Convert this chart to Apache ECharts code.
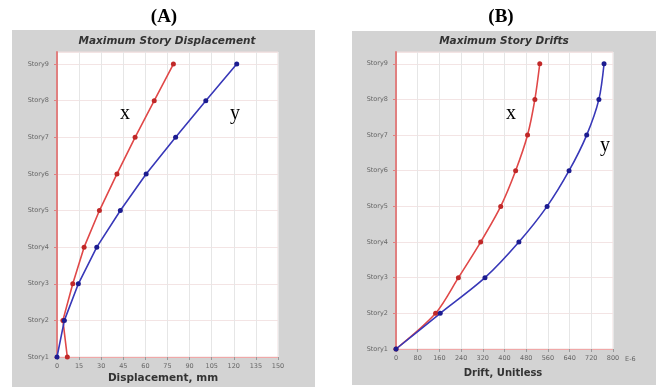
<!DOCTYPE html>
<html><head><meta charset="utf-8">
<script src="https://cdn.jsdelivr.net/npm/echarts@6/dist/echarts.min.js"></script>
<style>html,body{margin:0;padding:0;background:#fff}#c{width:656px;height:387px}</style>
</head><body><div id="c"></div>
<script>
const stories = ['Story1','Story2','Story3','Story4','Story5','Story6','Story7','Story8','Story9'];
const dispX = [7, 4, 10.7, 18.4, 28.8, 40.7, 53, 66, 79];
const dispY = [0, 5, 14.5, 27, 43, 60.5, 80.5, 101, 122];
const driftX = [0, 146, 230, 312, 386, 441, 485, 512, 530];
const driftY = [0, 163, 328, 453, 557, 638, 703, 748, 767];
const dispTicks = {min: 0, max: 150, step: 15};
const driftTicks = {min: 0, max: 800, step: 80};

const chart = echarts.init(document.getElementById('c'), null, {renderer: 'canvas'});
const toPts = arr => arr.map((v, i) => [v, i + 1]);
const RED = '#e04848', BLUE = '#3838b8';
const axisLbl = {fontSize: 6.5, color: '#666', fontFamily: 'DejaVu Sans'};
function yAxis(gi) {
  return {type: 'value', gridIndex: gi, min: 1, max: 9.33, interval: 1,
    axisLabel: Object.assign({}, axisLbl, {showMaxLabel: false, margin: 8,
      formatter: v => (Number.isInteger(v) && stories[v - 1]) ? stories[v - 1] : ''}),
    axisLine: {show: true, lineStyle: {color: '#e08080', width: 2}},
    axisTick: {show: true, length: 3, lineStyle: {color: '#e08080'}},
    splitLine: {show: true, lineStyle: {color: '#f3e4e4', width: 1}}};
}
function xAxis(gi, t) {
  return {type: 'value', gridIndex: gi, min: t.min, max: t.max, interval: t.step,
    axisLabel: Object.assign({}, axisLbl, {margin: 6}),
    axisLine: {show: true, lineStyle: {color: '#f0a8a8', width: 1}},
    axisTick: {show: true, length: 3, lineStyle: {color: '#999'}},
    splitLine: {show: true, lineStyle: {color: '#e6e6e6', width: 1}}};
}
function series(gi, data, color, mark, smooth) {
  return {type: 'line', xAxisIndex: gi, yAxisIndex: gi, data: toPts(data), smooth: smooth,
    symbol: 'circle', symbolSize: 5, lineStyle: {color: color, width: 1.6},
    itemStyle: {color: mark}, z: 5};
}
chart.setOption({
  animation: false,
  graphic: [
    {type: 'rect', shape: {x: 12, y: 30, width: 303, height: 357}, style: {fill: '#d3d3d3'}, z: -10},
    {type: 'rect', shape: {x: 352, y: 31, width: 304, height: 354}, style: {fill: '#d3d3d3'}, z: -10},
    {type: 'text', x: 164, y: 17, style: {text: '(A)', align: 'center', verticalAlign: 'middle', font: 'bold 19px "Liberation Serif"', fill: '#000'}},
    {type: 'text', x: 501, y: 17, style: {text: '(B)', align: 'center', verticalAlign: 'middle', font: 'bold 19px "Liberation Serif"', fill: '#000'}},
    {type: 'text', x: 167, y: 41, style: {text: 'Maximum Story Displacement', align: 'center', verticalAlign: 'middle', font: 'italic bold 10.5px "DejaVu Sans"', fill: '#333'}},
    {type: 'text', x: 504, y: 41, style: {text: 'Maximum Story Drifts', align: 'center', verticalAlign: 'middle', font: 'italic bold 10.5px "DejaVu Sans"', fill: '#333'}},
    {type: 'text', x: 163, y: 378, style: {text: 'Displacement, mm', align: 'center', verticalAlign: 'middle', font: 'bold 10.5px "DejaVu Sans"', fill: '#333'}},
    {type: 'text', x: 503, y: 373, style: {text: 'Drift, Unitless', align: 'center', verticalAlign: 'middle', font: 'bold 10px "DejaVu Sans"', fill: '#333'}},
    {type: 'text', x: 120, y: 104, style: {text: 'x', font: '20px "Liberation Serif"', fill: '#000'}, z: 20},
    {type: 'text', x: 230, y: 104, style: {text: 'y', font: '20px "Liberation Serif"', fill: '#000'}, z: 20},
    {type: 'text', x: 506, y: 104, style: {text: 'x', font: '20px "Liberation Serif"', fill: '#000'}, z: 20},
    {type: 'text', x: 600, y: 136, style: {text: 'y', font: '20px "Liberation Serif"', fill: '#000'}, z: 20}
  ],
  grid: [
    {left: 57, right: 378, top: 52, bottom: 30, show: true, backgroundColor: '#fff', borderColor: '#f0dede', borderWidth: 1},
    {left: 396, right: 43, top: 52, bottom: 38, show: true, backgroundColor: '#fff', borderColor: '#f0dede', borderWidth: 1}
  ],
  xAxis: [xAxis(0, dispTicks), Object.assign(xAxis(1, driftTicks), {name: 'E-6', nameLocation: 'end', nameGap: 8,
    nameTextStyle: Object.assign({}, axisLbl, {verticalAlign: 'top', padding: [7, 0, 0, 0]})})],
  yAxis: [yAxis(0), yAxis(1)],
  series: [
    series(0, dispX, RED, '#c02828', false),
    series(0, dispY, BLUE, '#1c1c90', false),
    series(1, driftX, RED, '#c02828', 0.3),
    series(1, driftY, BLUE, '#1c1c90', 0.3)
  ]
});
</script></body></html>
